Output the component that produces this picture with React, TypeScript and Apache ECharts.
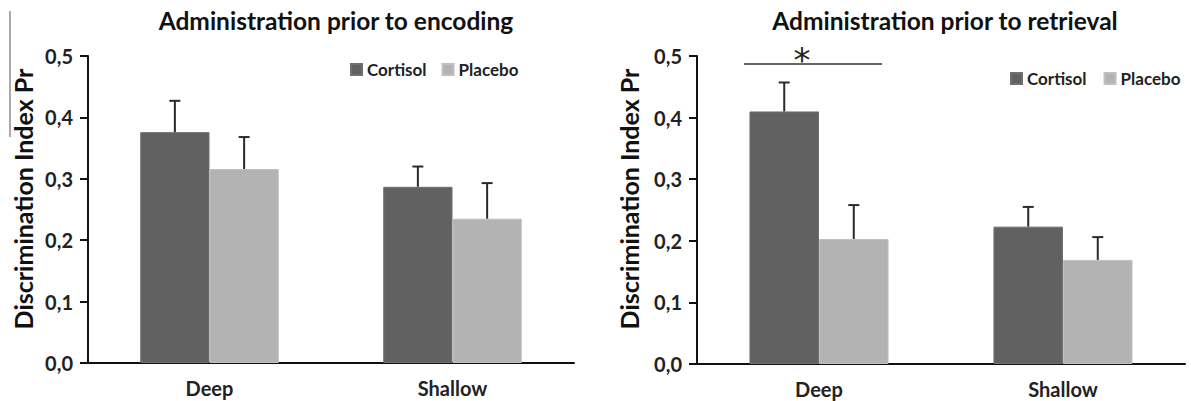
import React, { useEffect, useRef } from "react";
import * as echarts from "echarts";

const categories = ["Deep", "Shallow"];
const seriesNames = ["Cortisol", "Placebo"];
const encodingCortisol = [0.376, 0.287];
const encodingCortisolErr = [0.051, 0.033];
const encodingPlacebo = [0.316, 0.235];
const encodingPlaceboErr = [0.052, 0.058];
const retrievalCortisol = [0.41, 0.223];
const retrievalCortisolErr = [0.047, 0.032];
const retrievalPlacebo = [0.203, 0.169];
const retrievalPlaceboErr = [0.055, 0.037];
const titles = ["Administration prior to encoding", "Administration prior to retrieval"];
const yAxisTitle = "Discrimination Index Pr";

const FONT = "Lato, 'Open Sans', sans-serif";
const DARK = "#616161";
const LIGHT = "#b3b3b3";
const GAP = 0.43;

function errorSeries(gridIdx: number, means: number[], errs: number[], slot: number) {
  return {
    type: "custom",
    xAxisIndex: gridIdx,
    yAxisIndex: gridIdx,
    silent: true,
    z: 5,
    data: means.map((m, i) => [i, m, m + errs[i]]),
    renderItem: (params: any, api: any) => {
      const band = api.size([1, 0])[0];
      const bw = (band * (1 - GAP)) / 2;
      const off = slot === 0 ? -bw / 2 : bw / 2;
      const p0 = api.coord([api.value(0), api.value(1)]);
      const p1 = api.coord([api.value(0), api.value(2)]);
      const x = p0[0] + off;
      const style = { stroke: "#2a2a2a", lineWidth: 2 };
      return {
        type: "group",
        children: [
          { type: "line", shape: { x1: x, y1: p0[1], x2: x, y2: p1[1] }, style },
          { type: "line", shape: { x1: x - 5.5, y1: p1[1], x2: x + 5.5, y2: p1[1] }, style },
        ],
      };
    },
  };
}

function barSeries(gridIdx: number, name: string, data: number[], color: string) {
  return {
    type: "bar",
    name,
    xAxisIndex: gridIdx,
    yAxisIndex: gridIdx,
    data,
    barGap: "0%",
    barCategoryGap: "43%",
    itemStyle: { color, borderColor: color === DARK ? "#707070" : "#c0c0c0", borderWidth: 1 },
  };
}

export default function App() {
  const ref = useRef<HTMLDivElement>(null);
  useEffect(() => {
    if (!ref.current) return;
    const chart = echarts.init(ref.current, null, { renderer: "svg" });
    const yAxisCommon = () => ({
      type: "value",
      min: 0,
      max: 0.5,
      interval: 0.1,
      axisLine: { show: true, lineStyle: { color: "#111", width: 2 } },
      axisTick: { show: true, length: 8, lineStyle: { color: "#111", width: 2 } },
      axisLabel: {
        fontFamily: FONT,
        fontWeight: "bold",
        fontSize: 20,
        color: "#222",
        margin: 15,
        formatter: (v: number) => v.toFixed(1).replace(".", ","),
      },
      splitLine: { show: false },
    });
    const xAxisCommon = () => ({
      type: "category",
      data: categories,
      axisLine: { show: true, lineStyle: { color: "#111", width: 2 } },
      axisTick: { show: false },
      axisLabel: { fontFamily: FONT, fontWeight: "bold", fontSize: 20, color: "#222", margin: 15 },
    });
    const yTitle = (x: number) => ({
      type: "text",
      x,
      y: 199,
      rotation: Math.PI / 2,
      style: {
        text: yAxisTitle,
        fontFamily: FONT,
        fontWeight: "bold",
        fontSize: 25,
        fill: "#111",
        align: "center",
        verticalAlign: "middle",
      },
    });
    chart.setOption({
      animation: false,
      backgroundColor: "#ffffff",
      title: [
        {
          text: titles[0],
          left: 331,
          textAlign: "center",
          top: 3,
          textStyle: { fontFamily: FONT, fontWeight: "bold", fontSize: 24.5, color: "#111" },
        },
        {
          text: titles[1],
          left: 940,
          textAlign: "center",
          top: 3,
          textStyle: { fontFamily: FONT, fontWeight: "bold", fontSize: 24.5, color: "#111" },
        },
      ],
      legend: [
        {
          data: seriesNames,
          left: 345,
          top: 56,
          itemWidth: 11,
          itemHeight: 11,
          itemGap: 15,
          icon: "rect",
          textStyle: { fontFamily: FONT, fontWeight: "bold", fontSize: 17, color: "#222" },
        },
        {
          data: seriesNames,
          left: 1005,
          top: 65,
          itemWidth: 11,
          itemHeight: 11,
          itemGap: 17,
          icon: "rect",
          textStyle: { fontFamily: FONT, fontWeight: "bold", fontSize: 17, color: "#222" },
        },
      ],
      grid: [
        { left: 88, right: 1191 - 574, top: 56, bottom: 401 - 363 },
        { left: 697, right: 1191 - 1185, top: 56, bottom: 401 - 364 },
      ],
      xAxis: [{ ...xAxisCommon(), gridIndex: 0 }, { ...xAxisCommon(), gridIndex: 1 }],
      yAxis: [{ ...yAxisCommon(), gridIndex: 0 }, { ...yAxisCommon(), gridIndex: 1 }],
      series: [
        barSeries(0, seriesNames[0], encodingCortisol, DARK),
        barSeries(0, seriesNames[1], encodingPlacebo, LIGHT),
        barSeries(1, seriesNames[0], retrievalCortisol, DARK),
        barSeries(1, seriesNames[1], retrievalPlacebo, LIGHT),
        errorSeries(0, encodingCortisol, encodingCortisolErr, 0),
        errorSeries(0, encodingPlacebo, encodingPlaceboErr, 1),
        errorSeries(1, retrievalCortisol, retrievalCortisolErr, 0),
        errorSeries(1, retrievalPlacebo, retrievalPlaceboErr, 1),
      ],
      graphic: [
        { type: "line", shape: { x1: 10, y1: 11, x2: 10, y2: 137 }, style: { stroke: "#555", lineWidth: 1 } },
        yTitle(23),
        yTitle(629),
        { type: "line", shape: { x1: 744, y1: 64, x2: 882, y2: 64 }, style: { stroke: "#333", lineWidth: 1.5 } },
        {
          type: "text",
          x: 802,
          y: 43,
          style: {
            text: "*",
            fontFamily: "'DejaVu Sans', sans-serif",
            fontSize: 34,
            fontWeight: "normal",
            fill: "#222",
            align: "center",
            verticalAlign: "top",
          },
        },
      ],
    });
    return () => chart.dispose();
  }, []);
  return (
    <div
      ref={ref}
      style={{ position: "fixed", left: 0, top: 0, width: 1191, height: 401, background: "#fff" }}
    />
  );
}
